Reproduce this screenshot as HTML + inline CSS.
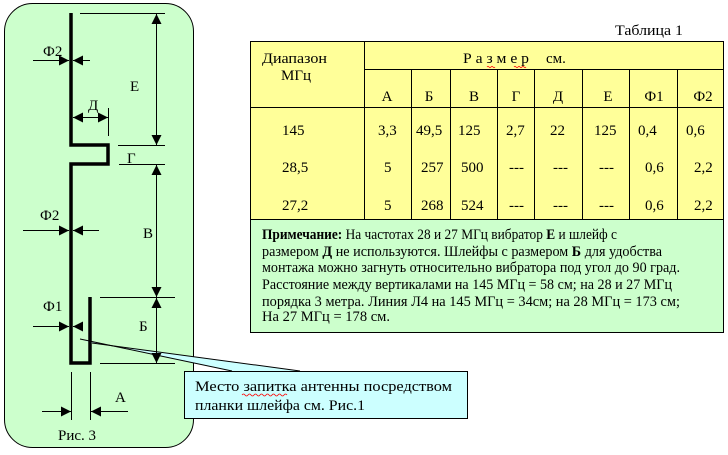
<!DOCTYPE html>
<html><head><meta charset="utf-8"><style>
body{margin:0;background:#fff;width:728px;height:455px;overflow:hidden}
svg{display:block}
text{font-family:"Liberation Serif","DejaVu Serif","Times New Roman",serif;font-size:15px;fill:#000}
</style></head><body>
<svg width="728" height="455" viewBox="0 0 728 455" xmlns="http://www.w3.org/2000/svg">
<defs>
<marker id="ar" viewBox="0 0 10 10" refX="10" refY="5" markerWidth="10" markerHeight="10" markerUnits="userSpaceOnUse" orient="auto"><path d="M0,0 L10,5 L0,10z" fill="#000"/></marker>
</defs>
<rect x="4.5" y="3.5" width="189" height="444" rx="28" fill="#ccffcc" stroke="#000"/>
<polygon points="80,339 232,371 300,371 92,343" fill="#ccffff" stroke="none"/>
<line x1="80" y1="339" x2="232" y2="371" stroke="#000"/>
<line x1="92" y1="343" x2="300" y2="371" stroke="#000"/>
<rect x="184.5" y="371.5" width="283" height="47" fill="#ccffff" stroke="#000"/>
<text x="195" y="391" textLength="257" lengthAdjust="spacingAndGlyphs">Место запитка  антенны посредством</text>
<path d="M242,395 q1.5,-2 3,0 t3,0 t3,0 t3,0 t3,0 t3,0 t3,0 t3,0 t3,0 t3,0 t3,0 t3,0 t3,0 t3,0 t3,0" fill="none" stroke="red" stroke-width="0.8"/>
<text x="195" y="410" textLength="170" lengthAdjust="spacingAndGlyphs">планки шлейфа см. Рис.1</text>
<path d="M71,13 V145 H108 V164 H71 V363 H90 V297" fill="none" stroke="#000" stroke-width="3.5"/>
<g stroke="#000" stroke-width="1">
<line x1="80" y1="13.5" x2="165" y2="13.5"/>
<line x1="118" y1="145.5" x2="165" y2="145.5"/>
<line x1="119" y1="164.5" x2="165" y2="164.5"/>
<line x1="100" y1="297.5" x2="175" y2="297.5"/>
<line x1="100" y1="363.5" x2="175" y2="363.5"/>
<line x1="156.5" y1="30" x2="156.5" y2="145" marker-end="url(#ar)"/>
<line x1="156.5" y1="30" x2="156.5" y2="14" marker-end="url(#ar)"/>
<line x1="156.5" y1="180" x2="156.5" y2="165" marker-end="url(#ar)"/>
<line x1="156.5" y1="180" x2="156.5" y2="297" marker-end="url(#ar)"/>
<line x1="156.5" y1="320" x2="156.5" y2="298" marker-end="url(#ar)"/>
<line x1="156.5" y1="320" x2="156.5" y2="363" marker-end="url(#ar)"/>
<line x1="108.5" y1="108" x2="108.5" y2="136"/>
<line x1="90" y1="117.5" x2="73" y2="117.5" marker-end="url(#ar)"/>
<line x1="90" y1="117.5" x2="108" y2="117.5" marker-end="url(#ar)"/>
<line x1="33" y1="60.5" x2="69" y2="60.5" marker-end="url(#ar)"/>
<line x1="90" y1="60.5" x2="73" y2="60.5" marker-end="url(#ar)"/>
<line x1="23" y1="230.5" x2="69" y2="230.5" marker-end="url(#ar)"/>
<line x1="99" y1="230.5" x2="73" y2="230.5" marker-end="url(#ar)"/>
<line x1="33" y1="326.5" x2="69" y2="326.5" marker-end="url(#ar)"/>
<line x1="82" y1="326.5" x2="73" y2="326.5" marker-end="url(#ar)"/>
<line x1="71.5" y1="372" x2="71.5" y2="420"/>
<line x1="90.5" y1="372" x2="90.5" y2="420"/>
<line x1="42" y1="411.5" x2="71" y2="411.5" marker-end="url(#ar)"/>
<line x1="128" y1="411.5" x2="91" y2="411.5" marker-end="url(#ar)"/>
</g>
<text x="43" y="56">Ф2</text>
<text x="130" y="91">Е</text>
<text x="88" y="110">Д</text>
<text x="127" y="163">Г</text>
<text x="40" y="220">Ф2</text>
<text x="143" y="238">В</text>
<text x="43" y="311">Ф1</text>
<text x="139" y="331">Б</text>
<text x="115" y="402">А</text>
<text x="58" y="440">Рис. 3</text>
<text x="615" y="35" textLength="68" lengthAdjust="spacingAndGlyphs">Таблица 1</text>
<rect x="250.5" y="41.5" width="473" height="178" fill="#ffff99" stroke="#000"/>
<g stroke="#000" stroke-width="1">
<line x1="364.5" y1="42" x2="364.5" y2="219"/>
<line x1="364" y1="69.5" x2="724" y2="69.5"/>
<line x1="250" y1="107.5" x2="724" y2="107.5"/>
<line x1="411.5" y1="70" x2="411.5" y2="219"/>
<line x1="450.5" y1="70" x2="450.5" y2="219"/>
<line x1="497.5" y1="70" x2="497.5" y2="219"/>
<line x1="534.5" y1="70" x2="534.5" y2="219"/>
<line x1="582.5" y1="70" x2="582.5" y2="219"/>
<line x1="629.5" y1="70" x2="629.5" y2="219"/>
<line x1="677.5" y1="70" x2="677.5" y2="219"/>
</g>
<text x="262" y="63" textLength="65" lengthAdjust="spacingAndGlyphs">Диапазон</text>
<text x="281" y="80">МГц</text>
<text x="463" y="63" textLength="66" lengthAdjust="spacingAndGlyphs">Р а з м е р</text>
<text x="546" y="63">см.</text>
<path d="M487,67 q1,-1.5 2,0 t2,0 t2,0 t2,0 M514,67 q1,-1.5 2,0 t2,0 t2,0 t2,0 t2,0 t2,0" fill="none" stroke="red" stroke-width="0.7"/>
<g text-anchor="middle">
<text x="387" y="101">А</text><text x="429" y="101">Б</text><text x="474" y="101">В</text><text x="516" y="101">Г</text><text x="558" y="101">Д</text><text x="608" y="101">Е</text><text x="654" y="101">Ф1</text><text x="703" y="101">Ф2</text>
</g>
<text x="282" y="135">145</text><text x="378" y="135">3,3</text><text x="416" y="135">49,5</text><text x="458" y="135">125</text><text x="506" y="135">2,7</text><text x="550" y="135">22</text><text x="594" y="135">125</text><text x="638" y="135">0,4</text><text x="686" y="135">0,6</text>
<text x="282" y="172">28,5</text><text x="384" y="172">5</text><text x="421" y="172">257</text><text x="461" y="172">500</text><text x="509" y="172">---</text><text x="553" y="172">---</text><text x="599" y="172">---</text><text x="645" y="172">0,6</text><text x="694" y="172">2,2</text>
<text x="282" y="210">27,2</text><text x="384" y="210">5</text><text x="421" y="210">268</text><text x="461" y="210">524</text><text x="509" y="210">---</text><text x="553" y="210">---</text><text x="599" y="210">---</text><text x="645" y="210">0,6</text><text x="694" y="210">2,2</text>
<rect x="250.5" y="219.5" width="473" height="113" fill="#ccffcc" stroke="#000"/>
<text x="262" y="239" textLength="355" lengthAdjust="spacingAndGlyphs"><tspan font-weight="bold">Примечание:</tspan> На частотах 28 и 27 МГц вибратор <tspan font-weight="bold">Е</tspan> и шлейф с</text>
<text x="262" y="256" textLength="400" lengthAdjust="spacingAndGlyphs">размером <tspan font-weight="bold">Д</tspan> не используются. Шлейфы с размером <tspan font-weight="bold">Б</tspan> для удобства</text>
<text x="262" y="272" textLength="418" lengthAdjust="spacingAndGlyphs">монтажа можно загнуть относительно вибратора под угол до 90 град.</text>
<text x="262" y="289" textLength="410" lengthAdjust="spacingAndGlyphs">Расстояние между вертикалами на 145 МГц = 58 см; на 28 и 27 МГц</text>
<text x="262" y="306" textLength="418" lengthAdjust="spacingAndGlyphs">порядка 3 метра. Линия Л4 на 145 МГц = 34см; на 28 МГц = 173 см;</text>
<text x="262" y="321" textLength="128" lengthAdjust="spacingAndGlyphs">На 27 МГц = 178 см.</text>
</svg>
</body></html>
